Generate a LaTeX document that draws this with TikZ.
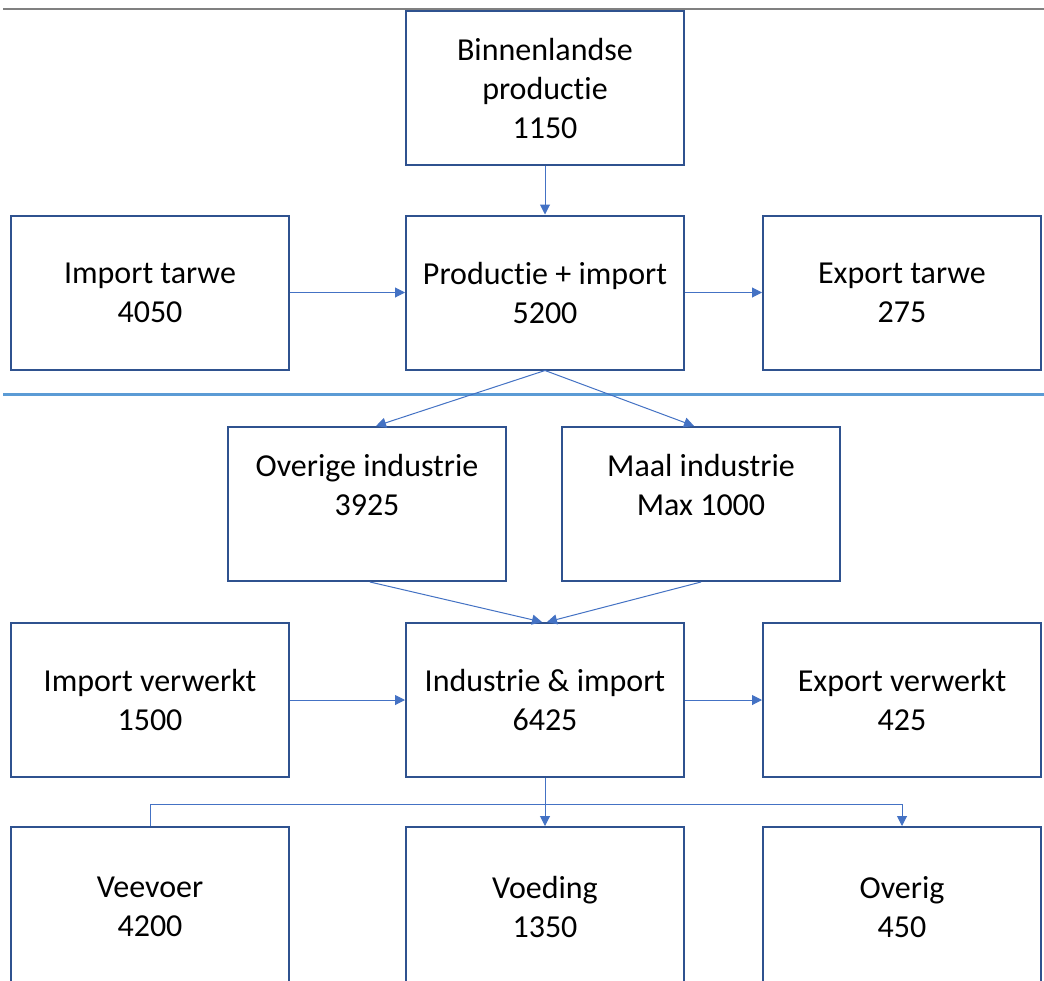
\documentclass[tikz,border=0pt]{standalone}
\usepackage{fontspec}
\setmainfont{Carlito}[Ligatures={NoCommon,NoRare}]
\usetikzlibrary{arrows.meta}

\definecolor{boxblue}{HTML}{2F528F}
\definecolor{arrowblue}{HTML}{4472C4}
\definecolor{lineblue}{HTML}{5B9BD5}

\tikzset{
  blok/.style={draw=boxblue, line width=2pt, fill=white, minimum width=278pt, minimum height=154pt,
    align=center, inner sep=0pt, font=\fontsize{32}{39}\selectfont},
  pijl/.style={draw=arrowblue, line width=1pt, -{Triangle[length=10pt,width=10pt]}},
  lijn/.style={draw=arrowblue, line width=1pt}
}

\begin{document}
\begin{tikzpicture}[x=1pt,y=-1pt]
\clip (0,0) rectangle (1044,980);
\useasboundingbox (0,0) rectangle (1044,980);
\fill[white] (0,0) rectangle (1044,980);

% scheidingslijnen
\draw [gray, line width=1.5pt] (3,9) -- (1044,9);
\draw [lineblue, line width=3pt] (3,394) -- (1044,394);

% tarwe
\node[blok] (bin) at (545,88) {Binnenlandse\\productie\\1150};
\node[blok] (imptarwe) at (150,292.5) {Import tarwe\\4050};
\node[blok] (prodimp) at (545,292.5) {Productie + import\\5200};
\node[blok] (exptarwe) at (902,292.5) {Export tarwe\\275};

% industrie (tekst staat hoger in het vak)
\node[blok] (oind) at (367,504) {Overige industrie\\3925\\\mbox{}};
\node[blok] (maal) at (701,504) {Maal industrie\\Max 1000\\\mbox{}};

% verwerkt
\node[blok] (impverw) at (150,700) {Import verwerkt\\1500};
\node[blok] (indimp) at (545,700) {Industrie \& import\\6425};
\node[blok] (expverw) at (902,700) {Export verwerkt\\425};

% afzet (onderkant valt buiten beeld)
\node[blok, minimum height=160pt] (veevoer) at (150,907) {Veevoer\\4200};
\node[blok, minimum height=160pt] (voeding) at (545,907) {Voeding\\1350};
\node[blok, minimum height=160pt] (overig) at (902,907) {Overig\\450};

\draw[pijl] (bin) -- (prodimp);
\draw[pijl] (imptarwe) -- (prodimp);
\draw[pijl] (prodimp) -- (exptarwe);
\draw[pijl] (prodimp.south) -- ([xshift=9pt]oind.north);
\draw[pijl] (prodimp.south) -- ([xshift=-7pt]maal.north);
\draw[pijl] ([xshift=3pt]oind.south) -- ([xshift=-3pt]indimp.north);
\draw[pijl] (maal.south) -- ([xshift=2pt]indimp.north);
\draw[pijl] (impverw) -- (indimp);
\draw[pijl] (indimp) -- (expverw);
\draw[pijl] (indimp) -- (voeding);
\draw[lijn] (indimp.south) -- ++(0,26) -| (veevoer.north);
\draw[pijl] (indimp.south) -- ++(0,26) -| (overig.north);

\end{tikzpicture}
\end{document}
